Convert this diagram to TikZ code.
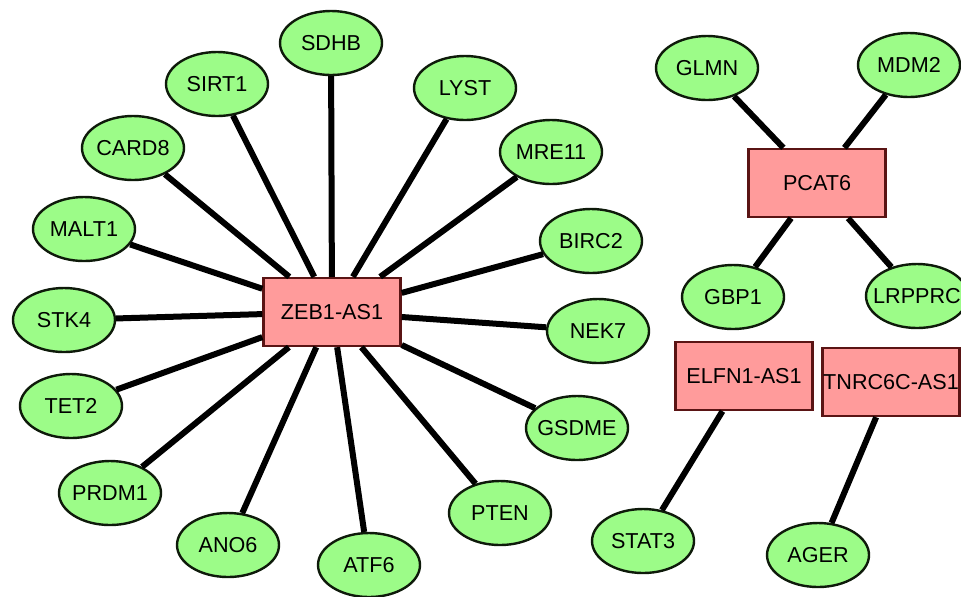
\documentclass[tikz,border=0pt]{standalone}
\usepackage{fontspec}
\setmainfont{Liberation Sans}
\usetikzlibrary{shapes.geometric}
\definecolor{genefill}{HTML}{9CFC88}
\definecolor{genedraw}{HTML}{0E1A0A}
\definecolor{rnafill}{HTML}{FF9B9B}
\definecolor{rnadraw}{HTML}{5A1414}
\tikzset{
  gene/.style={ellipse, draw=genedraw, fill=genefill, line width=1.2pt,
    minimum width=51pt, minimum height=32pt, inner xsep=-4pt, inner ysep=0pt,
    font=\fontsize{10.8}{12}\selectfont},
  lnc/.style={rectangle, draw=rnadraw, fill=rnafill, line width=1.2pt,
    minimum width=68.5pt, minimum height=34pt, inner sep=0pt,
    font=\fontsize{10.8}{12}\selectfont},
  link/.style={line width=3pt, black}
}
\begin{document}
\begin{tikzpicture}[x=0.5pt, y=-0.5pt]
\useasboundingbox (0,0) rectangle (961,596);
% lncRNA hubs
\node[lnc] (zeb)   at (332,312) {ZEB1-AS1};
\node[lnc] (pcat)  at (817,183) {PCAT6};
\node[lnc] (elfn)  at (744,376) {ELFN1-AS1};
\node[lnc] (tnrc)  at (891,382) {TNRC6C-AS1};
% genes around ZEB1-AS1
\node[gene] (sdhb)  at (331,43)  {SDHB};
\node[gene] (sirt1) at (217,84)  {SIRT1};
\node[gene] (lyst)  at (465,88)  {LYST};
\node[gene] (card8) at (133,148) {CARD8};
\node[gene] (mre11) at (551,152) {MRE11};
\node[gene] (malt1) at (84,229)  {MALT1};
\node[gene] (birc2) at (591,241) {BIRC2};
\node[gene] (stk4)  at (64,320)  {STK4};
\node[gene] (nek7)  at (598,331) {NEK7};
\node[gene] (tet2)  at (71,406)  {TET2};
\node[gene] (gsdme) at (577,428) {GSDME};
\node[gene] (prdm1) at (110,493) {PRDM1};
\node[gene] (pten)  at (500,513) {PTEN};
\node[gene] (ano6)  at (228,545) {ANO6};
\node[gene] (atf6)  at (369,565) {ATF6};
% genes around PCAT6
\node[gene] (glmn)  at (707,68)  {GLMN};
\node[gene] (mdm2)  at (909,65)  {MDM2};
\node[gene] (gbp1)  at (733,297) {GBP1};
\node[gene] (lrpprc) at (917,296) {LRPPRC};
% remaining pairs
\node[gene] (stat3) at (643,541) {STAT3};
\node[gene] (ager)  at (818,555) {AGER};
% interactions
\foreach \g in {sdhb,sirt1,lyst,card8,mre11,malt1,birc2,stk4,nek7,tet2,gsdme,prdm1,pten,ano6,atf6}
  \draw[link] (zeb) -- (\g);
\foreach \g in {glmn,mdm2,gbp1,lrpprc}
  \draw[link] (pcat) -- (\g);
\draw[link] (elfn) -- (stat3);
\draw[link] (tnrc) -- (ager);
\end{tikzpicture}
\end{document}
